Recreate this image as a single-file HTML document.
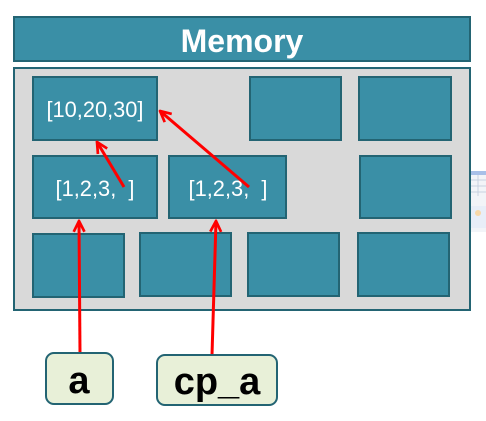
<!DOCTYPE html>
<html><head><meta charset="utf-8"><style>
html,body{margin:0;padding:0;background:#fff;width:486px;height:421px;overflow:hidden}
svg{display:block}
text{font-family:"Liberation Sans","DejaVu Sans",sans-serif}
</style></head><body>
<svg width="486" height="421" viewBox="0 0 486 421" xmlns="http://www.w3.org/2000/svg">
<defs>
<marker id="ah" viewBox="0 0 10 10" refX="9" refY="5" markerWidth="4.5" markerHeight="4.5" orient="auto-start-reverse" markerUnits="strokeWidth">
<path d="M1,1 L9,5 L1,9" fill="none" stroke="#f00" stroke-width="2"/>
</marker>
</defs>
<rect x="471" y="171" width="15" height="61" fill="#f2f4f8"/>
<rect x="471" y="171" width="15" height="4" fill="#a8c0e8"/>
<path d="M471,180 H486 M471,186 H486 M471,192 H486 M478,175 V196" stroke="#c8d2e0" stroke-width="1"/>
<rect x="471" y="206" width="15" height="22" fill="#e8eef8"/>
<circle cx="478" cy="213" r="3" fill="#f8d8a8"/>
<rect x="14" y="17" width="456" height="44" fill="#3a8fa6" stroke="#236473" stroke-width="2"/>
<text x="242" y="52" text-anchor="middle" font-size="32" font-weight="bold" fill="#fff">Memory</text>
<rect x="14" y="68" width="456" height="242" fill="#d9d9d9" stroke="#236473" stroke-width="2"/>
<g fill="#3a8fa6" stroke="#236473" stroke-width="2">
<rect x="33" y="77" width="124" height="63"/>
<rect x="250" y="77" width="91" height="63"/>
<rect x="359" y="77" width="92" height="63"/>
<rect x="33" y="156" width="124" height="62"/>
<rect x="169" y="156" width="117" height="62"/>
<rect x="360" y="156" width="91" height="62"/>
<rect x="33" y="234" width="91" height="63"/>
<rect x="140" y="233" width="91" height="63"/>
<rect x="248" y="233" width="91" height="63"/>
<rect x="358" y="233" width="91" height="63"/>
</g>
<g fill="#fff" font-size="22" text-anchor="middle">
<text x="95" y="117" textLength="97" lengthAdjust="spacingAndGlyphs">[10,20,30]</text>
<text x="95" y="196" textLength="79" lengthAdjust="spacingAndGlyphs">[1,2,3,&#160;&#160;]</text>
<text x="228" y="196" textLength="79" lengthAdjust="spacingAndGlyphs">[1,2,3,&#160;&#160;]</text>
</g>
<g stroke="#f00" stroke-width="3" fill="none" marker-end="url(#ah)">
<line x1="124" y1="187" x2="97" y2="142"/>
<line x1="249" y1="187" x2="160" y2="111"/>
<line x1="80" y1="353" x2="79" y2="221"/>
<line x1="212" y1="355" x2="216" y2="221"/>
</g>
<rect x="46" y="353" width="67" height="51" rx="8" fill="#e8f0d8" stroke="#236473" stroke-width="2"/>
<text x="79" y="393" text-anchor="middle" font-size="38" font-weight="bold" fill="#000">a</text>
<rect x="157" y="355" width="120" height="50" rx="8" fill="#e8f0d8" stroke="#236473" stroke-width="2"/>
<text x="217" y="394" text-anchor="middle" font-size="38" font-weight="bold" fill="#000">cp_a</text>
</svg>
</body></html>
